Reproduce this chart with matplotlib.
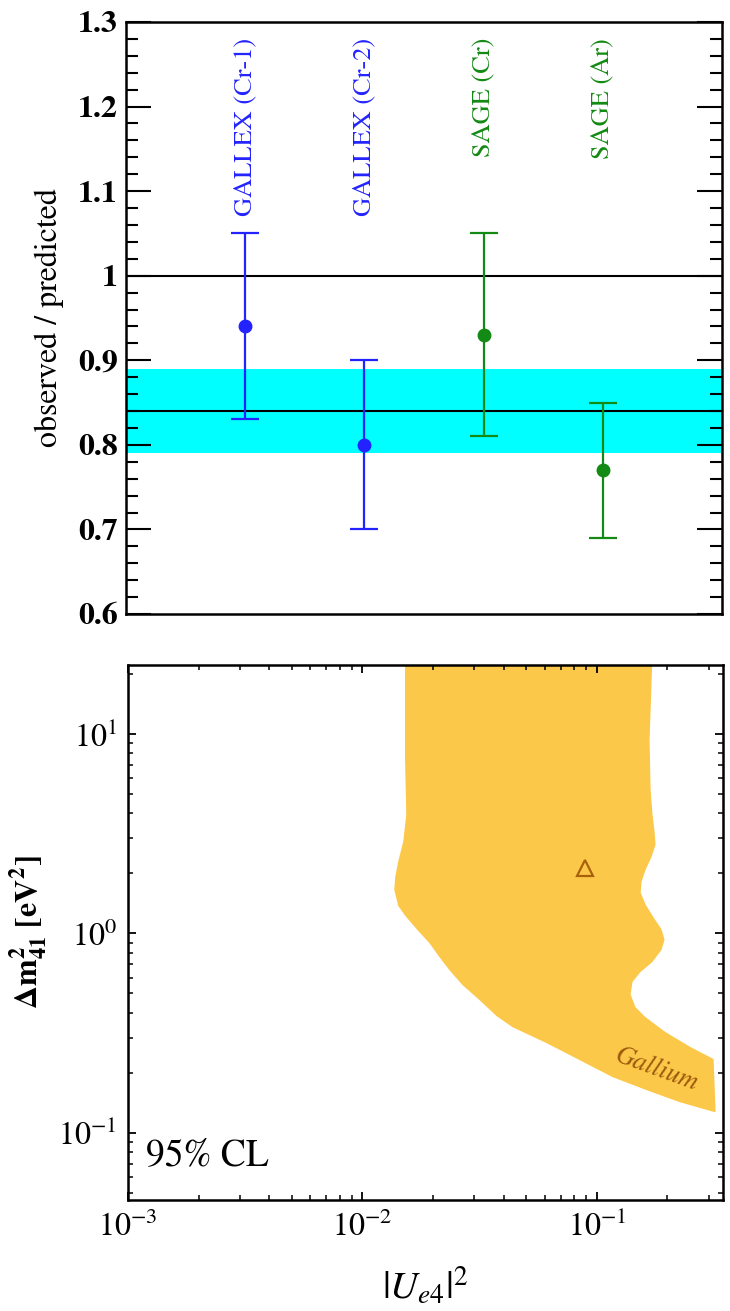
import numpy as np
import matplotlib
matplotlib.use('Agg')
import matplotlib.pyplot as plt
from matplotlib.ticker import MultipleLocator, LogLocator, NullFormatter, FuncFormatter, NullLocator

plt.rcParams['font.family'] = ['STIXGeneral', 'DejaVu Serif']
plt.rcParams['mathtext.fontset'] = 'stix'

# ---------------- data: top panel ----------------
experiments = ['GALLEX (Cr-1)', 'GALLEX (Cr-2)', 'SAGE (Cr)', 'SAGE (Ar)']
ratio = [0.94, 0.80, 0.93, 0.77]
ratio_err = [0.11, 0.10, 0.12, 0.08]
exp_colors = ['#2323ff', '#2323ff', '#138a13', '#138a13']
average = 0.84
average_err = 0.05

# ---------------- data: bottom panel (95% CL region boundary) ----------------
gallium_u2 = [0.0153, 0.0153, 0.01548, 0.01503, 0.0143, 0.0139, 0.01376, 0.0143,
              0.01533, 0.01725, 0.0194, 0.0214, 0.0236, 0.02683, 0.0317, 0.03747,
              0.0438, 0.0612, 0.0846, 0.117, 0.1633, 0.2259, 0.3186,
              0.3125, 0.2492, 0.195, 0.1602, 0.1452, 0.1382, 0.1410, 0.1526,
              0.1715, 0.1874, 0.1930, 0.1874, 0.1733, 0.1602, 0.1526, 0.1540,
              0.1602, 0.1699, 0.1767, 0.175, 0.1715, 0.1683, 0.1666, 0.1715]
gallium_dm2 = [25.0, 7.43, 3.94, 2.885, 2.29, 1.926, 1.657, 1.378,
               1.228, 1.045, 0.899, 0.765, 0.658, 0.554, 0.466, 0.3873,
               0.341, 0.2836, 0.2331, 0.1915, 0.1648, 0.1435, 0.1279,
               0.2331, 0.2677, 0.3183, 0.3783, 0.4247, 0.4934, 0.5733, 0.6434,
               0.7222, 0.8295, 0.931, 1.045, 1.2, 1.394, 1.601, 1.818,
               2.088, 2.427, 2.787, 3.238, 3.94, 5.26, 9.36, 25.0]
bestfit_u2 = [0.089]
bestfit_dm2 = [2.14]

fig = plt.figure(figsize=(7.3, 13.11), dpi=100)

# ================= top panel =================
ax1 = fig.add_axes([126/730, 697/1311, 596/730, 592/1311])
xpos = np.arange(1, len(experiments) + 1)
ax1.axhspan(average - average_err, average + average_err, color='#00ffff', lw=0, zorder=1)
ax1.axhline(average, color='black', lw=1.5, zorder=2)
ax1.axhline(1.0, color='black', lw=1.5, zorder=2)
for x, r, e, c, name in zip(xpos, ratio, ratio_err, exp_colors, experiments):
    ax1.errorbar([x], [r], yerr=[e], fmt='o', color=c, ms=9, lw=1.6,
                 capsize=10, capthick=1.6, zorder=3)
    ax1.text(x, 1.281, name, rotation=90, ha='center', va='top',
             color=c, fontsize=19)
ax1.set_xlim(0, 5)
ax1.set_ylim(0.6, 1.3)
ax1.xaxis.set_major_locator(NullLocator())
ax1.xaxis.set_minor_locator(NullLocator())
ax1.yaxis.set_major_locator(MultipleLocator(0.1))
ax1.yaxis.set_minor_locator(MultipleLocator(0.02))
ax1.yaxis.set_major_formatter(FuncFormatter(lambda v, p: '1' if abs(v - 1) < 1e-9 else f'{v:.1f}'))
ax1.tick_params(axis='y', which='major', direction='in', length=18, width=1.5,
                left=True, right=True, labelsize=23, pad=6)
ax1.tick_params(axis='y', which='minor', direction='in', length=8.5, width=1.5,
                left=True, right=True)
for lbl in ax1.get_yticklabels():
    lbl.set_fontweight('bold')
for s in ax1.spines.values():
    s.set_linewidth(1.8)
ax1.set_ylabel('observed / predicted', fontsize=23, labelpad=10)

# ================= bottom panel =================
ax2 = fig.add_axes([128/730, 111/1311, 595/730, 535/1311])
ax2.set_xscale('log')
ax2.set_yscale('log')
ax2.fill(gallium_u2, gallium_dm2, color='#fcc84a', lw=1.0, ec='#fcc84a',
         joinstyle='round', zorder=1)
ax2.plot(bestfit_u2, bestfit_dm2, marker='^', mfc='none', mec='#a8620c',
         ms=11, mew=1.6, ls='none', zorder=3)
ax2.set_xlim(1e-3, 0.345)
ax2.set_ylim(0.046, 22.2)
ax2.xaxis.set_major_locator(LogLocator(base=10, numticks=10))
ax2.xaxis.set_minor_locator(LogLocator(base=10, subs=np.arange(2, 10), numticks=20))
ax2.yaxis.set_major_locator(LogLocator(base=10, numticks=10))
ax2.yaxis.set_minor_locator(LogLocator(base=10, subs=np.arange(2, 10), numticks=20))
ax2.xaxis.set_minor_formatter(NullFormatter())
ax2.yaxis.set_minor_formatter(NullFormatter())
ax2.tick_params(which='major', direction='in', length=6, width=1.3,
                top=True, right=True, labelsize=23, pad=8)
ax2.tick_params(which='minor', direction='in', length=3.5, width=1.1,
                top=True, right=True)
for s in ax2.spines.values():
    s.set_linewidth(1.8)
    s.set_zorder(5)
ax2.set_xlabel(r'$|U_{e4}|^2$', fontsize=28, labelpad=16)
ax2.set_ylabel(r'$\mathbf{\Delta m^2_{41}\ [eV^2]}$', fontsize=23, labelpad=6)
ax2.text(0.03, 0.05, '95% CL', transform=ax2.transAxes, fontsize=27,
         ha='left', va='bottom')
ax2.text(0.180, 0.2075, 'Gallium', fontsize=19, style='italic', color='#9b5a0a',
         rotation=-20, ha='center', va='center', rotation_mode='anchor', zorder=4)

fig.savefig('out.png', dpi=100)
